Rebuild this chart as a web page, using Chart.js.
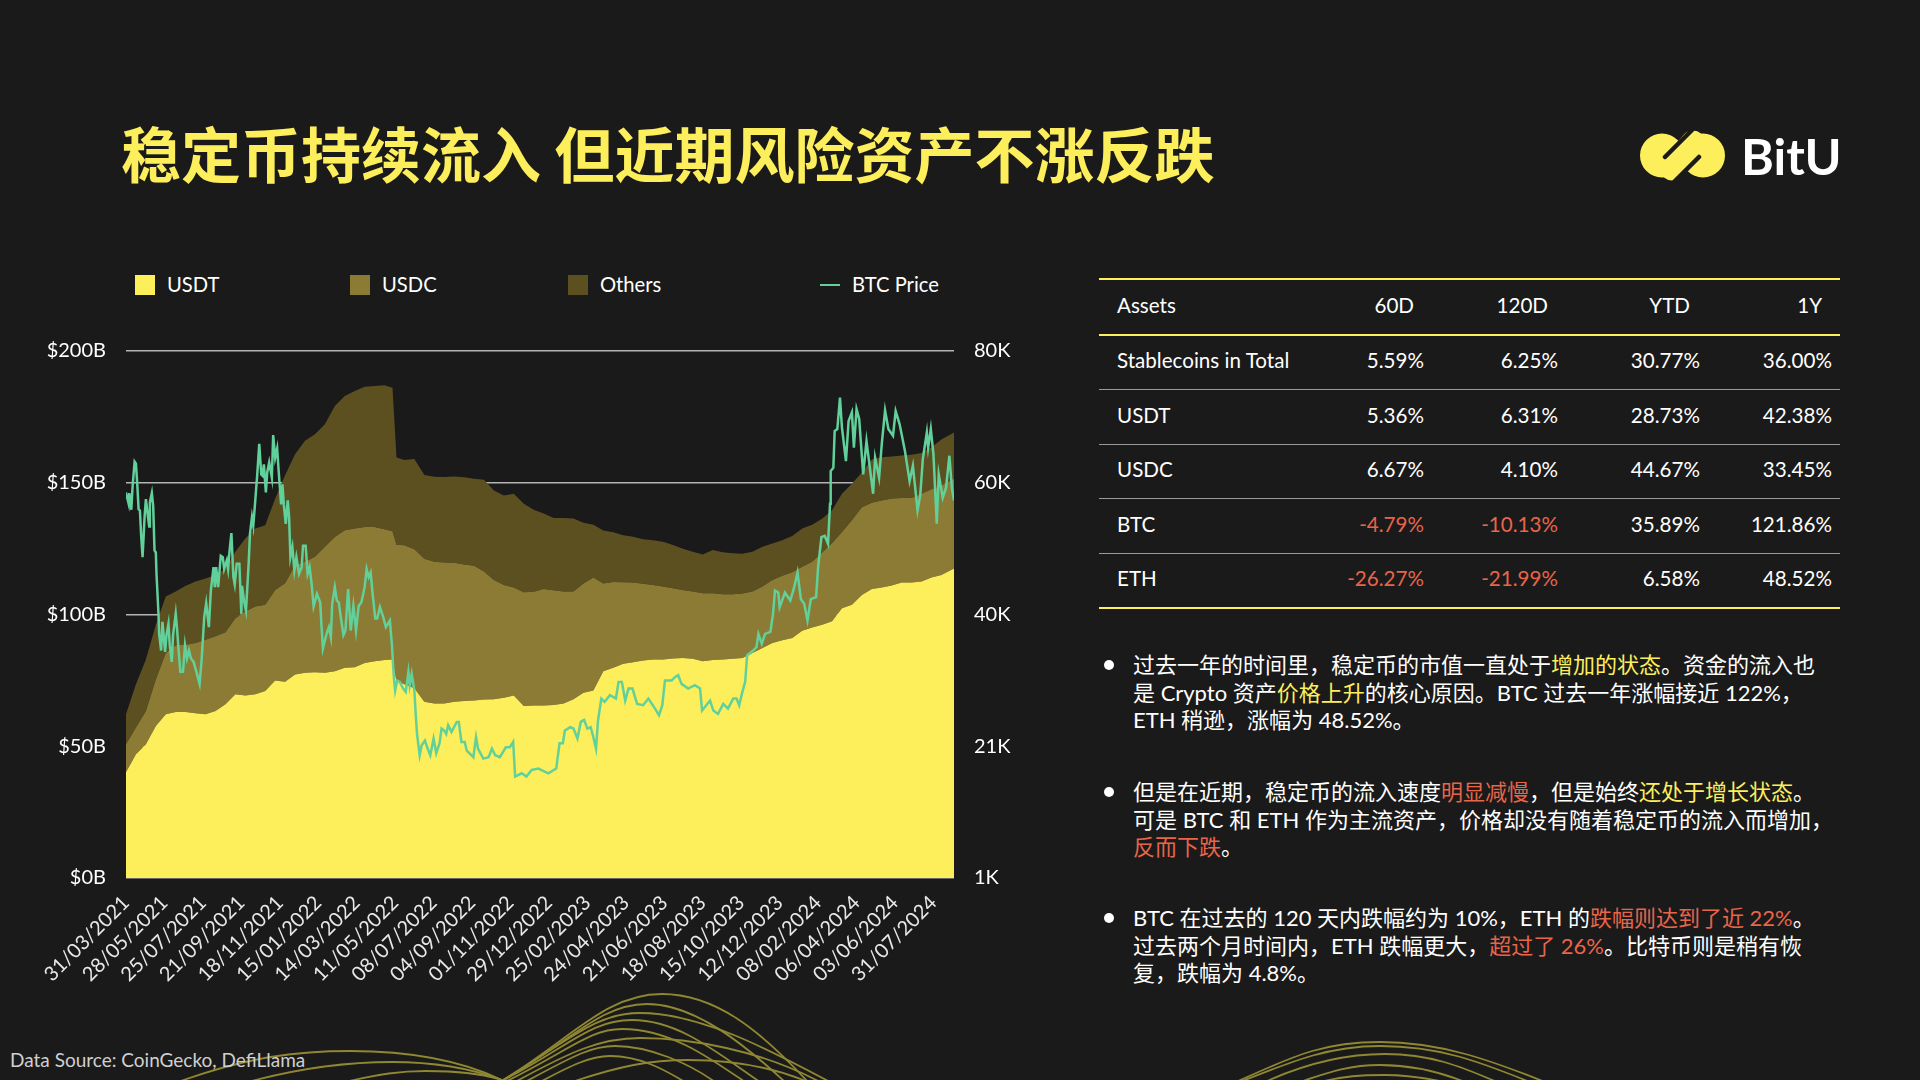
<!DOCTYPE html>
<html lang="zh-CN">
<head>
<meta charset="utf-8">
<title>BitU stablecoins</title>
<script src="https://cdn.jsdelivr.net/npm/chart.js@4"></script>
<style>
  html, body { margin: 0; padding: 0; background: #1a1a1a; }
  body { width: 1920px; height: 1080px; position: relative; overflow: hidden; color: #fff;
         font-family: Lato, "Noto Sans CJK SC", sans-serif; }
  .abs { position: absolute; white-space: nowrap; }
  #waves { position: absolute; left: 0; top: 0; }
  #title { left: 121px; top: 107px; font-size: 60px; line-height: 90px; font-weight: 700; color: #fdee5c;
           font-family: "Noto Sans CJK SC", sans-serif; }
  #logoText { left: 1741px; top: 124px; font-size: 50px; line-height: 64px; font-weight: 700; }
  #chartBox { position: absolute; left: 0; top: 319px; width: 1060px; height: 711px; }
  .swatch { position: absolute; width: 20px; height: 20px; top: 275px; }
  .legend { position: absolute; top: 271px; font-size: 20.2px; line-height: 26px; color: #fff; }
  #source { left: 10px; top: 1047px; font-size: 19px; line-height: 26px; color: #d0d0d0; }
  #stats { position: absolute; left: 1099px; top: 278px; width: 741px; border-collapse: collapse; table-layout: fixed;
           font-size: 20.6px; border-top: 2px solid #fdee5c; }
  #stats td, #stats th { height: 49.5px; padding: 0 8px 4px 0; text-align: right; font-weight: 400; white-space: nowrap;
                         border-bottom: 1.5px solid #9a9a9a; }
  #stats th { padding-right: 18px; border-bottom: 2px solid #fdee5c; }
  #stats tr:last-child td { border-bottom: 2px solid #fdee5c; }
  #stats td:first-child, #stats th:first-child { text-align: left; padding-left: 18px; }
  .neg { color: #e8654a; }
  .note { position: absolute; left: 1133px; font-size: 22px; line-height: 27.5px; white-space: nowrap; }
  .dot { position: absolute; left: 1104px; width: 10px; height: 10px; border-radius: 50%; background: #fff; }
  .y { color: #fdee5c; }
  .r { color: #e8654a; }
</style>
</head>
<body>
<svg id="waves" width="1920" height="1080"></svg>
<div id="title" class="abs">稳定币持续流入 但近期风险资产不涨反跌</div>
<svg class="abs" style="left:1636px;top:128px" width="94" height="56" viewBox="1636 128 94 56">
  <circle cx="1662" cy="155.5" r="22" fill="#fdee5c"/>
  <circle cx="1703" cy="155.5" r="22" fill="#fdee5c"/>
  <path d="M1672 168 L1693 143" stroke="#fdee5c" stroke-width="25" stroke-linecap="round"/>
  <path d="M1665 157 L1692 130 M1699 157 L1672 184" stroke="#1a1a1a" stroke-width="4.5" stroke-linecap="round"/>
</svg>
<div id="logoText" class="abs">BitU</div>

<div class="swatch" style="left:135px;background:#fdee5c"></div><div class="legend" style="left:167px">USDT</div>
<div class="swatch" style="left:350px;background:#8b7b34"></div><div class="legend" style="left:382px">USDC</div>
<div class="swatch" style="left:568px;background:#5c5021"></div><div class="legend" style="left:600px">Others</div>
<div class="swatch" style="left:820px;width:20px;height:2px;top:284px;background:#62d09a"></div><div class="legend" style="left:852px">BTC Price</div>

<div id="chartBox"><canvas id="mainChart" width="1060" height="711"></canvas></div>
<div id="source" class="abs">Data Source: CoinGecko, DefiLlama</div>

<table id="stats"></table>

<div class="dot" style="top:660px"></div>
<div class="note" style="top:651px">过去一年的时间里，稳定币的市值一直处于<span class="y">增加的状态</span>。资金的流入也<br>是 Crypto 资产<span class="y">价格上升</span>的核心原因。BTC 过去一年涨幅接近 122%，<br>ETH 稍逊，涨幅为 48.52%。</div>
<div class="dot" style="top:787px"></div>
<div class="note" style="top:778px">但是在近期，稳定币的流入速度<span class="r">明显减慢</span>，但是始终<span class="y">还处于增长状态</span>。<br>可是 BTC 和 ETH 作为主流资产，价格却没有随着稳定币的流入而增加，<br><span class="r">反而下跌</span>。</div>
<div class="dot" style="top:913px"></div>
<div class="note" style="top:904px">BTC 在过去的 120 天内跌幅约为 10%，ETH 的<span class="r">跌幅则达到了近 22%</span>。<br>过去两个月时间内，ETH 跌幅更大，<span class="r">超过了 26%</span>。比特币则是稍有恢<br>复，跌幅为 4.8%。</div>

<script>
// days since 31/03/2021 for the stablecoin areas
const stackDays = [0,15,30,45,60,75,90,105,120,135,150,165,180,195,210,225,240,255,270,285,300,315,330,345,360,375,390,402,408,420,435,450,465,480,495,510,525,540,555,570,585,600,615,630,645,660,675,690,705,720,735,750,765,780,795,810,825,840,855,870,885,900,915,930,945,960,975,990,1005,1020,1035,1050,1065,1080,1095,1110,1125,1140,1155,1170,1185,1200,1215,1230,1249];
const usdt = [40.1,47.0,50.8,57.7,62.1,63.0,63.0,62.5,62.1,63.4,65.9,69.7,69.3,69.7,71.0,75.0,74.5,77.2,77.9,78.1,77.9,78.5,79.8,80.0,81.6,82.3,82.7,82.9,74.7,73.5,72.0,66.9,66.2,66.2,66.9,67.2,67.4,67.7,67.8,68.4,69.3,65.3,65.5,65.5,65.7,66.2,67.8,70.3,71.2,78.5,79.8,81.3,81.9,82.5,82.9,82.9,83.3,83.5,83.2,82.3,82.7,82.9,83.2,83.5,85.4,87.3,89.2,90.2,91.1,93.8,95.1,96.1,97.4,102.4,103.7,107.4,109.7,110.2,111.0,112.1,112.1,112.5,114.0,115.0,117.5];
const usdc = [10.7,10.1,12.6,17.6,23.3,25.3,25.5,26.7,28.3,28.3,27.4,28.9,31.8,33.3,32.7,34.3,37.4,41.5,42.1,43.8,47.8,50.9,52.2,52.6,51.6,50.9,49.7,48.7,51.8,52.8,52.8,54.3,53.8,53.5,52.7,51.8,51.1,48.6,45.3,42.8,40.9,43.1,43.1,44.2,43.5,42.5,40.9,41.5,42.8,33.3,32.5,30.9,30.2,29.2,28.3,27.7,26.7,25.8,25.5,25.8,25.4,24.8,24.5,24.5,23.3,23.3,23.9,24.5,24.9,24.3,24.9,27.4,29.6,28.9,32.1,33.3,32.7,33.1,33.0,32.1,32.1,33.3,33.5,34.0,34.0];
const others = [11.3,16.4,19.5,20.8,21.4,20.4,22.4,23.3,23.3,23.3,24.2,25.2,27.7,29.6,30.2,34.6,40.9,42.1,45.9,46.5,46.5,49.7,50.9,52.2,53.2,53.5,54.6,54.5,33.1,32.3,34.2,31.7,32.3,32.5,32.8,33.1,33.0,34.8,34.0,34.0,35.6,33.6,31.2,28.6,27.4,27.9,27.7,23.0,20.1,20.1,18.9,17.9,17.4,16.9,17.0,17.0,16.4,15.7,15.1,14.7,16.4,15.9,15.5,15.1,15.1,15.1,13.8,13.5,13.8,14.5,14.1,12.8,12.6,14.5,13.8,13.2,16.4,16.4,16.0,16.1,16.4,15.5,16.0,17.4,17.6];

// BTC price in thousands
const btcDays = [0,1,4,5,8,10,13,15,17,19,21,23,25,28,30,33,35,36,39,41,43,45,46,49,50,53,55,59,61,64,66,69,71,75,77,79,82,86,89,92,95,98,102,107,111,114,118,121,125,128,132,134,136,139,143,146,148,152,154,156,159,162,164,167,171,174,175,178,181,185,187,190,192,195,198,201,204,206,208,211,213,216,220,222,225,228,231,234,236,238,241,244,246,248,251,254,257,261,265,267,271,274,277,280,283,288,293,295,297,302,306,309,311,315,318,321,324,328,331,335,339,343,347,351,355,360,363,366,369,372,376,379,383,388,392,398,401,404,406,409,413,418,422,426,428,431,435,437,439,443,446,451,455,459,464,468,473,476,480,483,486,491,499,502,506,511,514,519,524,528,531,539,547,552,557,564,573,579,584,587,597,604,612,622,637,649,654,659,662,670,675,681,686,691,696,701,705,709,712,717,722,730,739,743,748,753,758,764,771,780,788,798,804,809,813,823,828,833,838,848,858,866,869,881,886,893,901,908,916,921,925,929,934,937,946,951,954,959,964,972,976,979,984,986,994,1002,1008,1013,1018,1023,1028,1033,1041,1044,1049,1054,1059,1062,1063,1067,1069,1073,1077,1080,1086,1090,1095,1098,1102,1106,1112,1117,1127,1130,1136,1140,1145,1150,1157,1161,1167,1175,1182,1187,1194,1198,1202,1208,1210,1214,1218,1223,1226,1232,1237,1242,1246,1249];
const btc = [58.8,58.8,57.1,58.7,56.2,59.8,63.4,63.1,60.0,56.3,56.1,52.1,49.1,55.1,57.8,55.3,53.7,57.3,58.7,56.8,50.1,49.8,46.6,40.6,37.6,35.1,39.4,34.9,37.4,39.1,35.9,33.4,37.4,40.6,38.4,35.6,31.9,31.9,35.9,33.9,35.1,33.9,33.4,31.6,30.1,33.6,40.1,42.2,38.6,44.1,47.6,44.6,47.6,44.6,49.3,49.1,47.3,48.6,47.3,49.8,52.7,46.1,45.0,48.1,48.1,40.6,44.8,42.6,41.1,48.1,52.6,55.1,53.8,57.6,61.5,66.1,61.5,61.3,63.0,58.8,61.8,63.3,61.0,67.4,64.0,65.4,61.0,57.0,60.0,57.0,54.1,57.6,55.1,49.1,50.6,47.1,49.1,46.6,47.6,50.8,50.8,46.6,47.6,45.1,41.7,43.6,42.3,38.6,35.4,37.4,38.6,37.1,42.1,44.6,42.6,42.3,40.1,37.4,38.1,44.3,38.1,41.8,38.1,41.8,42.3,44.6,47.3,46.1,46.8,43.6,39.9,39.9,41.6,40.1,38.6,39.6,36.1,31.1,29.1,30.6,30.4,29.4,28.9,31.9,29.9,31.6,29.1,25.6,22.6,19.4,20.9,21.6,20.4,19.4,21.9,19.7,21.2,23.4,23.1,22.6,23.9,22.9,24.4,24.4,21.4,21.4,20.1,19.6,19.1,22.1,20.4,18.9,19.1,20.4,19.4,19.1,20.6,20.6,21.4,16.2,16.7,16.2,17.2,17.4,16.7,17.4,21.2,21.2,23.1,23.6,23.4,21.9,24.4,24.7,23.4,23.6,22.1,20.4,24.6,27.9,27.4,28.4,27.9,30.4,30.4,27.6,29.4,29.4,27.1,26.9,27.9,26.4,25.4,26.9,30.6,30.6,31.1,31.4,30.1,29.4,29.9,29.4,26.1,27.6,26.1,25.6,27.1,26.4,27.9,27.9,26.9,28.6,30.4,34.4,35.1,35.6,37.6,36.1,37.6,37.9,40.6,44.1,43.8,41.6,43.8,42.6,44.6,46.8,42.8,42.1,39.6,42.8,43.1,47.6,52.1,52.3,51.1,57.1,62.0,62.5,68.0,68.3,73.0,68.5,63.5,69.5,70.8,65.5,71.3,69.8,61.5,66.5,58.6,64.0,61.0,66.0,71.1,68.3,67.3,71.0,69.0,65.0,60.5,62.8,56.1,58.3,63.8,67.8,65.5,68.3,64.5,54.1,61.5,58.0,59.5,64.3,59.3,57.6];

const dateLabels = ['31/03/2021','28/05/2021','25/07/2021','21/09/2021','18/11/2021','15/01/2022','14/03/2022','11/05/2022','08/07/2022','04/09/2022','01/11/2022','29/12/2022','25/02/2023','24/04/2023','21/06/2023','18/08/2023','15/10/2023','12/12/2023','08/02/2024','06/04/2024','03/06/2024','31/07/2024'];
const dateStep = 58;
const usdTicks = [0, 50, 100, 150, 200];
const btcTickValues = [1, 20.75, 40.5, 60.25, 80];
const btcTickLabels = ['1K', '21K', '40K', '60K', '80K'];

const tableHead = ['Assets', '60D', '120D', 'YTD', '1Y'];
const tableRows = [
    ['Stablecoins in Total', '5.59%', '6.25%', '30.77%', '36.00%'],
    ['USDT', '5.36%', '6.31%', '28.73%', '42.38%'],
    ['USDC', '6.67%', '4.10%', '44.67%', '33.45%'],
    ['BTC', '-4.79%', '-10.13%', '35.89%', '121.86%'],
    ['ETH', '-26.27%', '-21.99%', '6.58%', '48.52%']
];
const colWidths = [191, 142, 134, 142, 132];

// table
let html = '<colgroup>' + colWidths.map(w => `<col style="width:${w}px">`).join('') + '</colgroup>';
html += '<tr>' + tableHead.map(h => `<th>${h}</th>`).join('') + '</tr>';
tableRows.forEach(row => {
    html += '<tr>' + row.map(c => `<td${c[0] === '-' ? ' class="neg"' : ''}>${c}</td>`).join('') + '</tr>';
});
document.getElementById('stats').innerHTML = html;

// background wave decoration
const waveColor = '#8f8732';
const wavePaths = [
    'M178 1082 C250 1056 300 1051 350 1051 C410 1051 460 1060 502 1080',
    'M248 1082 C300 1068 350 1062 392 1062 C430 1062 470 1068 502 1080',
    'M345 1082 C380 1074 400 1071 426 1071 C450 1071 480 1073 502 1080',
    'M500 1082 C570 1040 605 994 662 994 C715 994 760 1030 808 1082',
    'M500 1082 C570 1042 600 1004 647 1004 C695 1004 745 1045 785 1082',
    'M500 1082 C570 1040 595 1013 640 1013 C700 1013 770 1050 830 1082',
    'M500 1082 C570 1046 590 1020 632 1020 C680 1020 720 1055 760 1082',
    'M505 1082 C570 1050 590 1029 622 1029 C670 1029 710 1058 745 1082',
    'M515 1082 C570 1052 600 1038 640 1038 C690 1038 760 1050 820 1082',
    'M525 1082 C570 1058 590 1046 615 1046 C650 1046 690 1064 715 1082',
    'M540 1082 C570 1066 590 1056 610 1056 C640 1056 665 1070 685 1082',
    'M572 1082 C620 1066 650 1060 688 1060 C730 1060 770 1066 808 1082',
    'M1236 1082 C1290 1058 1320 1042 1380 1042 C1440 1042 1490 1060 1545 1082',
    'M1240 1082 C1295 1060 1330 1046 1380 1046 C1440 1046 1480 1062 1530 1082',
    'M1265 1082 C1300 1066 1340 1054 1385 1054 C1430 1054 1460 1066 1497 1082',
    'M1300 1082 C1330 1072 1350 1065 1380 1065 C1410 1065 1440 1072 1465 1082',
    'M1320 1082 C1345 1076 1360 1075 1385 1075 C1405 1075 1425 1078 1445 1082'
];
document.getElementById('waves').innerHTML = wavePaths
    .map(d => `<path d="${d}" fill="none" stroke="${waveColor}" stroke-width="1.8"/>`).join('');

function toPoints(xs, ys) {
    return xs.map((x, i) => ({ x: x, y: ys[i] }));
}

const tickFont = { family: 'Lato, "Noto Sans CJK SC", sans-serif', size: 20 };

new Chart(document.getElementById('mainChart').getContext('2d'), {
    type: 'line',
    data: {
        datasets: [
            { label: 'BTC Price', data: toPoints(btcDays, btc), yAxisID: 'y1', borderColor: '#62d09a', borderWidth: 2.5, pointRadius: 0, fill: false, tension: 0 },
            { label: 'USDT', data: toPoints(stackDays, usdt), yAxisID: 'y', backgroundColor: '#fdee5c', borderWidth: 0, pointRadius: 0, fill: 'origin', tension: 0 },
            { label: 'USDC', data: toPoints(stackDays, usdc), yAxisID: 'y', backgroundColor: '#8b7b34', borderWidth: 0, pointRadius: 0, fill: '-1', tension: 0 },
            { label: 'Others', data: toPoints(stackDays, others), yAxisID: 'y', backgroundColor: '#5c5021', borderWidth: 0, pointRadius: 0, fill: '-1', tension: 0 }
        ]
    },
    options: {
        responsive: false,
        animation: false,
        plugins: { legend: { display: false }, tooltip: { enabled: false } },
        scales: {
            x: {
                type: 'linear',
                min: 0,
                max: 1249,
                grid: { display: false },
                border: { display: false },
                afterBuildTicks: scale => { scale.ticks = dateLabels.map((_, i) => ({ value: i * dateStep })); },
                afterFit: scale => { scale.height = 152; },
                ticks: {
                    color: '#e8e8e8',
                    font: tickFont,
                    autoSkip: false,
                    minRotation: 45,
                    maxRotation: 45,
                    padding: 5,
                    callback: (value, i) => dateLabels[i]
                }
            },
            y: {
                stacked: true,
                position: 'left',
                min: 0,
                max: 200,
                grid: { color: '#b4b4b4', lineWidth: 1.5, drawTicks: false },
                border: { display: false },
                afterBuildTicks: scale => { scale.ticks = usdTicks.map(v => ({ value: v })); },
                afterFit: scale => { scale.width = 126; },
                ticks: { color: '#ffffff', font: tickFont, padding: 20, callback: value => '$' + value + 'B' }
            },
            y1: {
                position: 'right',
                min: 1,
                max: 80,
                grid: { display: false },
                border: { display: false },
                afterBuildTicks: scale => { scale.ticks = btcTickValues.map(v => ({ value: v })); },
                afterFit: scale => { scale.width = 106; },
                ticks: { color: '#ffffff', font: tickFont, padding: 12, callback: (value, i) => btcTickLabels[i] }
            }
        }
    }
});
</script>
</body>
</html>
